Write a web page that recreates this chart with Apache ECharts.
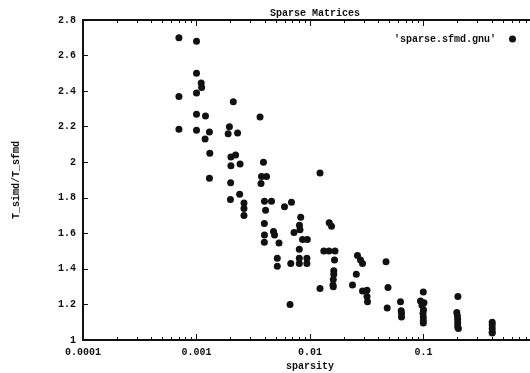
<!DOCTYPE html>
<html>
<head>
<meta charset="utf-8">
<script src="https://cdn.jsdelivr.net/npm/echarts@6/dist/echarts.min.js"></script>
<style>
  html, body { margin: 0; padding: 0; background: #fff; }
  #chart { width: 530px; height: 373px; }
</style>
</head>
<body>
<div id="chart"></div>
<script>
// one entry per point
const sparsity = [
  0.0007, 0.001, 0.001, 0.0011, 0.00111, 0.0007, 0.001, 0.00211, 0.001, 0.0012,
  0.00363, 0.0007, 0.001, 0.0013, 0.00195, 0.0019, 0.0023, 0.00119, 0.00131, 0.00201,
  0.00221, 0.00201, 0.00242, 0.00389, 0.00374, 0.00414, 0.0037, 0.0013, 0.002, 0.0024,
  0.00199, 0.00262, 0.00262, 0.00262, 0.00397, 0.00458, 0.00406, 0.00596, 0.00396, 0.00397,
  0.00396, 0.00477, 0.00487, 0.00533, 0.00515, 0.00515, 0.01225, 0.00687, 0.00828, 0.00808,
  0.00816, 0.00723, 0.00859, 0.00947, 0.00805, 0.00805, 0.00805, 0.00939, 0.00939, 0.00677,
  0.00667, 0.01477, 0.01547, 0.01323, 0.01471, 0.01661, 0.01644, 0.0162, 0.0162, 0.01604,
  0.01594, 0.01604, 0.01225, 0.0262, 0.02786, 0.02902, 0.02558, 0.02368, 0.02902, 0.03179,
  0.03179, 0.03211, 0.04674, 0.04867, 0.04789, 0.0627, 0.0636, 0.064, 0.064, 0.0996,
  0.0941, 0.101, 0.097, 0.1, 0.099, 0.0996, 0.0996, 0.0996, 0.201, 0.1965,
  0.199, 0.2, 0.2, 0.2, 0.203, 0.403, 0.403, 0.403, 0.403, 0.403
];
const ratio = [
  2.70, 2.68, 2.50, 2.445, 2.42, 2.37, 2.39, 2.34, 2.27, 2.26,
  2.255, 2.185, 2.18, 2.17, 2.20, 2.16, 2.165, 2.13, 2.05, 2.03,
  2.04, 1.98, 1.99, 2.00, 1.92, 1.92, 1.88, 1.91, 1.885, 1.82,
  1.79, 1.77, 1.74, 1.70, 1.78, 1.78, 1.73, 1.75, 1.655, 1.59,
  1.55, 1.61, 1.59, 1.545, 1.46, 1.415, 1.94, 1.775, 1.69, 1.645,
  1.62, 1.605, 1.565, 1.565, 1.51, 1.46, 1.43, 1.46, 1.43, 1.43,
  1.20, 1.66, 1.64, 1.50, 1.50, 1.50, 1.45, 1.39, 1.37, 1.34,
  1.31, 1.30, 1.29, 1.475, 1.45, 1.43, 1.37, 1.31, 1.275, 1.28,
  1.245, 1.215, 1.44, 1.295, 1.18, 1.215, 1.165, 1.15, 1.13, 1.27,
  1.22, 1.21, 1.195, 1.17, 1.15, 1.13, 1.11, 1.095, 1.245, 1.155,
  1.135, 1.115, 1.095, 1.075, 1.065, 1.10, 1.085, 1.065, 1.045, 1.04
];
const xTicks = [0.0001, 0.001, 0.01, 0.1, 1];
const xTickLabels = ['0.0001', '0.001', '0.01', '0.1', '1'];
const yTickLabels = ['1', '1.2', '1.4', '1.6', '1.8', '2', '2.2', '2.4', '2.6', '2.8'];

// minor ticks at 2..9 of each decade
const xMinor = [];
for (let i = 0; i < xTicks.length - 1; i++) {
  for (let k = 2; k <= 9; k++) xMinor.push(+(xTicks[i] * k).toPrecision(3));
}

const font = 'Liberation Mono';
const ink = '#111';

function logAxis(pos, minor, withLabels) {
  return {
    type: 'log',
    logBase: 10,
    position: pos,
    min: 0.0001,
    max: 1,
    axisLine: { show: !minor, lineStyle: { color: ink, width: 2 } },
    axisTick: {
      show: true,
      inside: true,
      length: minor ? 3 : 6,
      customValues: minor ? xMinor : xTicks,
      lineStyle: { color: ink, width: 1 }
    },
    axisLabel: {
      show: withLabels,
      margin: 7,
      fontFamily: font,
      fontWeight: 'bold',
      fontSize: 10,
      color: ink,
      formatter: v => {
        const i = xTicks.findIndex(t => Math.abs(Math.log10(t) - Math.log10(v)) < 1e-6);
        return i >= 0 ? xTickLabels[i] : '';
      }
    },
    splitLine: { show: false },
    minorTick: { show: false }
  };
}

const bottom = logAxis('bottom', false, true);
bottom.name = 'sparsity';
bottom.nameLocation = 'middle';
bottom.nameGap = 17;
bottom.nameTextStyle = { fontFamily: font, fontWeight: 'bold', fontSize: 10, color: ink };

const chart = echarts.init(document.getElementById('chart'));
chart.setOption({
  backgroundColor: '#fff',
  animation: false,
  title: {
    text: 'Sparse Matrices',
    left: 310,
    top: 3,
    textAlign: 'center',
    textStyle: { fontFamily: font, fontWeight: 'bold', fontSize: 10, color: ink }
  },
  legend: {
    right: 9,
    top: 29,
    align: 'right',
    itemWidth: 7,
    itemHeight: 7,
    icon: 'circle',
    textStyle: { fontFamily: font, fontWeight: 'bold', fontSize: 10, color: ink, padding: [0, 8, 0, 0] },
    data: ["'sparse.sfmd.gnu'"]
  },
  grid: { left: 83, right: -7, top: 20, bottom: 33, outerBoundsMode: 'none' },
  xAxis: [
    bottom,
    logAxis('bottom', true, false),
    logAxis('top', false, false),
    logAxis('top', true, false)
  ],
  yAxis: {
    type: 'value',
    min: 1,
    max: 2.8,
    interval: 0.2,
    name: 'T_simd/T_sfmd',
    nameLocation: 'middle',
    nameGap: 62,
    nameTextStyle: { fontFamily: font, fontWeight: 'bold', fontSize: 10, color: ink },
    axisLine: { show: true, lineStyle: { color: ink, width: 2 } },
    axisTick: { show: true, inside: true, length: 5, lineStyle: { color: ink } },
    axisLabel: {
      margin: 7,
      fontFamily: font,
      fontWeight: 'bold',
      fontSize: 10,
      color: ink,
      formatter: v => yTickLabels[Math.round((v - 1) / 0.2)]
    },
    splitLine: { show: false }
  },
  series: [{
    name: "'sparse.sfmd.gnu'",
    type: 'scatter',
    symbol: 'circle',
    symbolSize: 7,
    itemStyle: { color: ink, opacity: 1 },
    data: sparsity.map((s, i) => [s, ratio[i]])
  }]
});
</script>
</body>
</html>
